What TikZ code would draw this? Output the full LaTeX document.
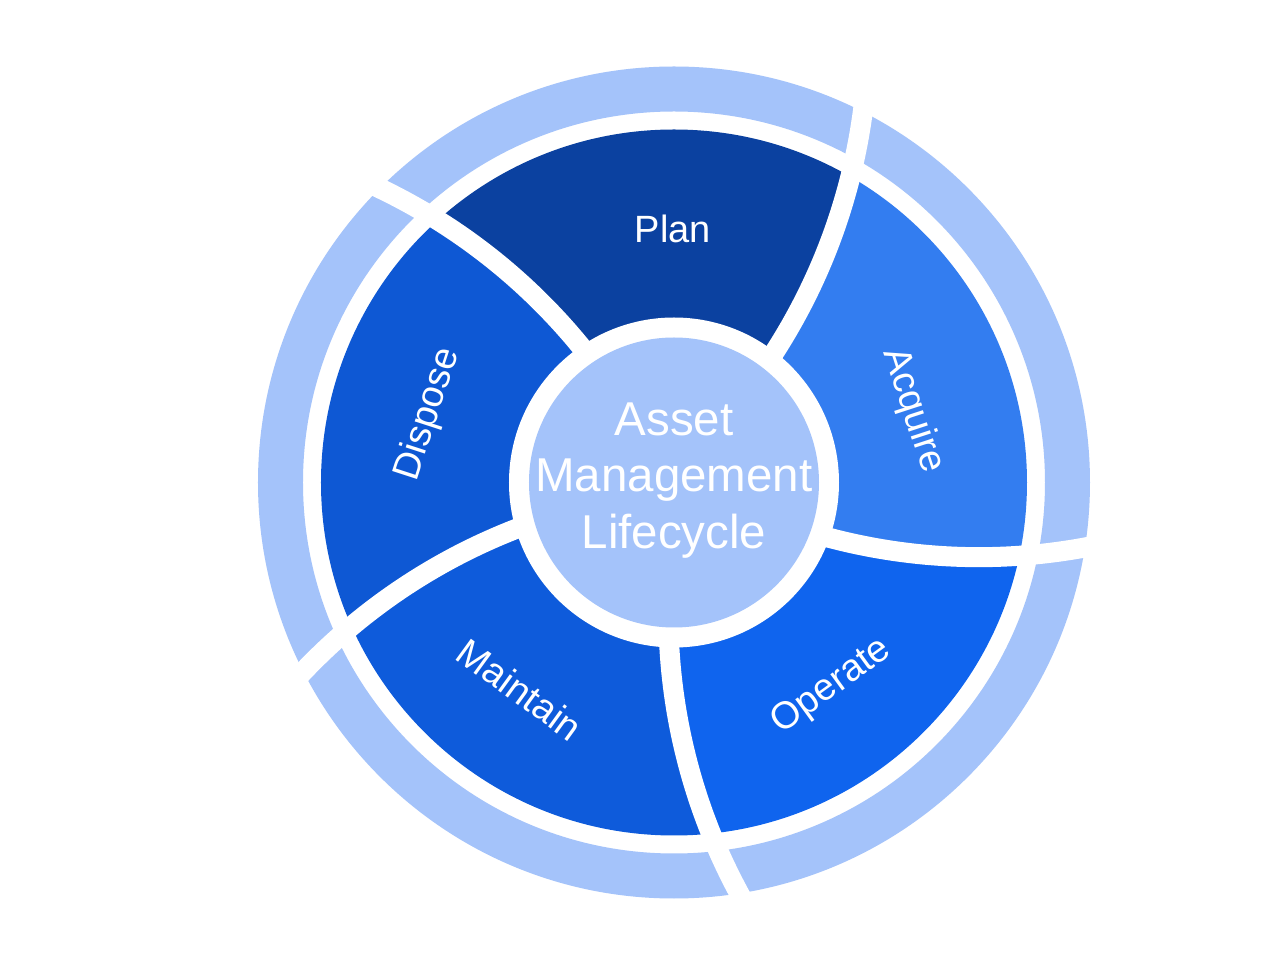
\documentclass[tikz,border=0pt]{standalone}
\usepackage{fontspec}
\setmainfont{Liberation Sans}
\usetikzlibrary{calc}
\definecolor{ringc}{RGB}{164,195,250}
\definecolor{planc}{RGB}{11,65,160}
\definecolor{acqc}{RGB}{51,125,240}
\definecolor{opc}{RGB}{15,100,238}
\definecolor{mainc}{RGB}{14,91,219}
\definecolor{dispc}{RGB}{14,88,212}
\tikzset{
  gapline/.style={white, line width=20pt},
  seglabel/.style={text=white, inner sep=0pt, font=\fontsize{38}{46}\selectfont},
  hubtext/.style={text=white, inner sep=0pt, align=center, font=\fontsize{47.5}{56.3}\selectfont},
}
\begin{document}
\begin{tikzpicture}[x=1pt,y=1pt]
\useasboundingbox (-674,-477.5) rectangle (606,482.5);
\fill[white] (-674,-477.5) rectangle (606,482.5);
% outer ring
\fill[ringc, even odd rule] (0,0) circle (416pt) (0,0) circle (371pt);
% segments: each boundary is an arc of radius 588 centred at (a+79 : 597)
\begin{scope}
\clip (0,0) circle (353pt);
\foreach \a/\c in {124.3/planc, 52.3/acqc, -19.7/opc, -91.7/mainc, -163.7/dispc}{
  \pgfmathsetmacro{\b}{\a-72}
  \fill[\c] (0,0) -- ($(\a+79:597pt)+(\a-87:588pt)$)
    arc[start angle=\a-87, end angle=\a-58, radius=588pt]
    arc[start angle=\a+11.36, end angle=\b+11.36, radius=429.5pt]
    arc[start angle=\b-58, end angle=\b-87, radius=588pt]
    -- cycle;
}
\end{scope}
% white ring and hub
\fill[white] (0,0) circle (165pt);
\fill[ringc] (0,0) circle (145pt);
% gaps
\foreach \a in {124.3, 52.3, -19.7, -91.7, -163.7}{
  \draw[gapline] ($(\a+79:597pt)+(\a-86:588pt)$) arc[start angle=\a-86, end angle=\a-58, radius=588pt];
}
% labels
\node[seglabel] (plan) at (-1,254) {Plan};
\node[seglabel, rotate=-72] (acquire) at (239,72) {Acquire};
\node[seglabel, rotate=36] (operate) at (158,-204) {Operate};
\node[seglabel, rotate=-36] (maintain) at (-154,-207) {Maintain};
\node[seglabel, rotate=72] (dispose) at (-246,68) {Dispose};
\node[hubtext] (hub) at (0,2) {Asset\\Management\\Lifecycle};
\end{tikzpicture}
\end{document}
